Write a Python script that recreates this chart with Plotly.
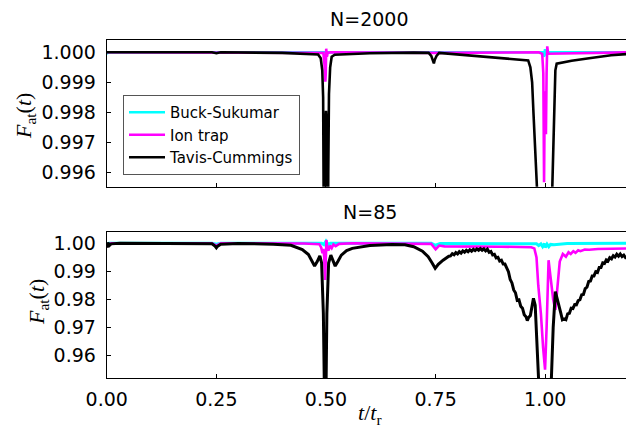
import plotly.graph_objects as go

# ---------------- data: N=2000 (top panel) ----------------
top_bs_t = [0.0, 0.003, 0.25, 0.5, 0.75, 0.994, 0.997, 0.9995, 1.002, 1.005, 1.2]
top_bs_f = [0.99995, 1.0, 1.0, 1.0, 1.0, 1.0, 0.99985, 1.0001, 0.9999, 1.0, 1.0]

top_it_t = [0.0, 0.25, 0.48, 0.494, 0.4965, 0.4985, 0.4995, 0.5005, 0.502, 0.504, 0.51,
            0.75, 0.985, 0.993, 0.9955, 0.9972, 0.9988, 1.0015, 1.003, 1.0045, 1.0065, 1.2]
top_it_f = [1.0, 1.0, 1.0, 0.99998, 0.9996, 0.99902, 0.9993, 1.00012, 0.99985, 0.99998, 1.0,
            0.99998, 1.0, 0.99995, 0.9993, 0.99567, 0.9987, 0.99727, 0.9993, 1.0002, 0.99995, 1.0]

top_tc_t = [0.0, 0.01, 0.24, 0.25, 0.26, 0.40, 0.45, 0.482, 0.488, 0.4915, 0.4935, 0.4948,
            0.4965, 0.498, 0.5, 0.502, 0.5035, 0.5052, 0.5068, 0.5095, 0.513, 0.52, 0.6, 0.7,
            0.734, 0.740, 0.744, 0.746, 0.748, 0.752, 0.758, 0.80, 0.85, 0.90, 0.95, 0.961,
            0.966, 0.970, 0.973, 0.977, 0.981, 0.99, 1.0, 1.01, 1.016, 1.019, 1.021, 1.023,
            1.026, 1.06, 1.10, 1.15, 1.2]
top_tc_f = [1.0, 1.0, 1.0, 0.99997, 1.0, 0.99998, 0.99996, 0.99993, 0.9998, 0.9994, 0.9985,
            0.996, 0.99, 0.9975, 0.99805, 0.9975, 0.99, 0.996, 0.9986, 0.9995, 0.99985, 0.99992,
            0.99997, 0.99999, 0.99998, 0.99988, 0.99975, 0.99963, 0.99975, 0.99988, 0.99998,
            0.99993, 0.99988, 0.99982, 0.99976, 0.99973, 0.9995, 0.999, 0.998, 0.9965, 0.9955,
            0.99, 0.985, 0.99, 0.9955, 0.997, 0.9985, 0.9994, 0.99962, 0.99972, 0.9998,
            0.9999, 0.99996]

# ---------------- data: N=85 (bottom panel) ----------------
bot_bs_t = [0.0, 0.005, 0.24, 0.25, 0.26, 0.49, 0.495, 0.5, 0.505, 0.51, 0.74, 0.75, 0.76,
            0.98, 0.985, 0.99, 0.994, 0.998, 1.0, 1.004, 1.008, 1.012, 1.02, 1.05, 1.2]
bot_bs_f = [0.9995, 1.0, 1.0, 0.9997, 1.0, 1.0, 0.9995, 1.0008, 0.9995, 1.0, 1.0, 0.9993,
            0.9999, 0.9998, 0.9992, 0.9998, 0.9988, 0.9999, 0.9985, 0.9997, 0.9988, 0.9996,
            0.9995, 0.9999, 1.0]

bot_it_t = [0.0, 0.004, 0.01, 0.24, 0.25, 0.26, 0.45, 0.485, 0.489, 0.492, 0.494, 0.496,
            0.498, 0.4995, 0.501, 0.503, 0.506, 0.509, 0.513, 0.517, 0.522, 0.53, 0.56, 0.74,
            0.75, 0.758, 0.77, 0.9, 0.968, 0.975, 0.98, 0.984, 0.99, 0.995, 0.9995, 1.003,
            1.0075, 1.012, 1.018, 1.023, 1.028, 1.033, 1.04, 1.047, 1.053, 1.058, 1.064, 1.069,
            1.075, 1.08, 1.09, 1.1, 1.12, 1.2]
bot_it_f = [0.9988, 0.9995, 1.0, 1.0, 0.9992, 1.0, 0.99995, 0.9997, 0.9985, 0.9965, 0.998,
            0.995, 0.987, 0.995, 1.0012, 0.998, 0.9975, 0.9992, 0.9983, 0.9996, 0.999, 0.9998,
            1.0, 0.9998, 0.9979, 0.9992, 0.9989, 0.9988, 0.9986, 0.9982, 0.995, 0.985, 0.975,
            0.963, 0.955, 0.97, 0.994, 0.988, 0.98, 0.9763, 0.985, 0.9935, 0.9962, 0.9952,
            0.9968, 0.9962, 0.9972, 0.9966, 0.9975, 0.9972, 0.9978, 0.9977, 0.998, 0.9982]

bot_tc_t = [0.0, 0.003, 0.006, 0.01, 0.03, 0.2, 0.24, 0.247, 0.25, 0.253, 0.26, 0.3, 0.38,
            0.42, 0.446, 0.46, 0.468, 0.474, 0.48, 0.486, 0.49, 0.494, 0.497, 0.4995, 0.502,
            0.506, 0.511, 0.516, 0.521, 0.527, 0.535, 0.547, 0.56, 0.6, 0.65, 0.68, 0.70,
            0.72, 0.733, 0.742, 0.749, 0.756, 0.767, 0.780, 0.784, 0.788, 0.792, 0.796, 0.800,
            0.804, 0.808, 0.812, 0.816, 0.820, 0.824, 0.828, 0.832, 0.836, 0.840, 0.844, 0.848,
            0.852, 0.856, 0.860, 0.864, 0.868, 0.872, 0.876, 0.880, 0.884, 0.888, 0.892, 0.896,
            0.900, 0.904, 0.908, 0.912, 0.916, 0.920, 0.924, 0.928, 0.932, 0.936, 0.940, 0.944,
            0.948, 0.952, 0.956, 0.959, 0.962, 0.966, 0.970, 0.973, 0.977, 0.982, 0.986, 0.991,
            1.009, 1.014, 1.018, 1.023, 1.027, 1.031, 1.035, 1.039, 1.043, 1.047, 1.051, 1.055,
            1.059, 1.063, 1.067, 1.071, 1.075, 1.079, 1.083, 1.087, 1.091, 1.095, 1.099, 1.103,
            1.107, 1.111, 1.115, 1.119, 1.123, 1.127, 1.131, 1.135, 1.139, 1.143, 1.147, 1.151,
            1.155, 1.159, 1.163, 1.167, 1.171, 1.175, 1.179, 1.183, 1.187, 1.191, 1.195, 1.2]
bot_tc_f = [0.9985, 1.0002, 0.9992, 0.9998, 1.0, 1.0, 0.9998, 0.999, 0.9984, 0.999, 0.9997,
            0.99995, 0.9997, 0.9993, 0.9978, 0.996, 0.9935, 0.9919, 0.9935, 0.9955, 0.993,
            0.975, 0.94, 0.94, 0.975, 0.993, 0.9958, 0.9935, 0.9919, 0.9935, 0.9958, 0.9974,
            0.9982, 0.9992, 0.9996, 0.9995, 0.9988, 0.9972, 0.9952, 0.993, 0.9911, 0.9925,
            0.994, 0.9954, 0.9955, 0.9963, 0.9959, 0.9967, 0.9962, 0.9970, 0.9965, 0.9973,
            0.9968, 0.9975, 0.9970, 0.9977, 0.9972, 0.9979, 0.9974, 0.9980, 0.9975, 0.9981,
            0.9975, 0.9980, 0.9973, 0.9979, 0.9968, 0.9971, 0.9959, 0.9961, 0.9948, 0.9950,
            0.9937, 0.9940, 0.9926, 0.9926, 0.9911, 0.9899, 0.9871, 0.9859, 0.9834, 0.9824,
            0.9797, 0.9799, 0.9776, 0.9769, 0.9746, 0.9739, 0.9725, 0.9736, 0.9743, 0.978,
            0.9804, 0.978, 0.965, 0.952, 0.93,
            0.93, 0.952, 0.970, 0.9828, 0.980, 0.9771, 0.9754, 0.9728, 0.9731, 0.9728, 0.9749,
            0.9751, 0.9769, 0.9768, 0.9782, 0.9781, 0.9796, 0.9799, 0.9817, 0.9818, 0.9839,
            0.9844, 0.9864, 0.9866, 0.9884, 0.9884, 0.9899, 0.9896, 0.9914, 0.9914, 0.9930,
            0.9928, 0.9941, 0.9937, 0.9949, 0.9945, 0.9956, 0.9951, 0.9961, 0.9954, 0.9962,
            0.9953, 0.9958, 0.9949, 0.9952, 0.9943, 0.9945, 0.9940]

series_names = ["Buck-Sukumar", "Ion trap", "Tavis-Cummings"]
series_colors = ["#00ffff", "#ff00ff", "#000000"]

x_ticks = [0.0, 0.25, 0.5, 0.75, 1.0]
x_ticklabels = ["0.00", "0.25", "0.50", "0.75", "1.00"]
top_yticks = [0.996, 0.997, 0.998, 0.999, 1.000]
top_yticklabels = ["0.996", "0.997", "0.998", "0.999", "1.000"]
bot_yticks = [0.96, 0.97, 0.98, 0.99, 1.00]
bot_yticklabels = ["0.96", "0.97", "0.98", "0.99", "1.00"]

# ---------------- figure ----------------
# the page body adds an 8px margin, so the figure is 8px smaller and
# every layout position below is given in window pixels minus 8
OFF = 8
W, H = 634 - OFF, 430 - OFF


def px_x(p):
    return (p - OFF) / W


def px_y(p):
    return 1 - (p - OFF) / H


fig = go.Figure()

top_data = [(top_bs_t, top_bs_f), (top_it_t, top_it_f), (top_tc_t, top_tc_f)]
bot_data = [(bot_bs_t, bot_bs_f), (bot_it_t, bot_it_f), (bot_tc_t, bot_tc_f)]
top_widths = [2.6, 2.6, 2.6]
bot_widths = [3, 2.6, 3]

for (t, f), name, col, w in zip(top_data, series_names, series_colors, top_widths):
    fig.add_trace(go.Scatter(x=t, y=f, mode="lines", name=name,
                             line=dict(color=col, width=w),
                             xaxis="x", yaxis="y", showlegend=True))
for (t, f), name, col, w in zip(bot_data, series_names, series_colors, bot_widths):
    fig.add_trace(go.Scatter(x=t, y=f, mode="lines", name=name,
                             line=dict(color=col, width=w),
                             xaxis="x2", yaxis="y2", showlegend=False))

px_l, px_r = 106.7, 633.0
top_t, top_b = 40.0, 186.7
bot_t, bot_b = 231.7, 378.3

font_main = "DejaVu Sans"
tick_font = dict(family=font_main, size=19, color="black")

axis_common = dict(showline=True, linecolor="black", linewidth=1, mirror=True,
                   ticks="inside", ticklen=4, tickcolor="black", showgrid=False,
                   zeroline=False, tickfont=tick_font, automargin=False)

fig.update_layout(
    width=W, height=H,
    margin=dict(l=0, r=0, t=0, b=0, autoexpand=False),
    paper_bgcolor="white", plot_bgcolor="white",
    xaxis=dict(domain=[px_x(px_l), px_x(px_r)], range=[0, 1.2], anchor="y",
               tickvals=x_ticks, ticktext=x_ticklabels, showticklabels=False,
               **axis_common),
    yaxis=dict(domain=[px_y(top_b), px_y(top_t)], range=[0.99552, 1.00041],
               anchor="x", tickvals=top_yticks, ticktext=top_yticklabels,
               ticklabelstandoff=6, **axis_common),
    xaxis2=dict(domain=[px_x(px_l), px_x(px_r)], range=[0, 1.2], anchor="y2",
                tickvals=x_ticks, ticktext=x_ticklabels, ticklabelstandoff=4,
                **axis_common),
    yaxis2=dict(domain=[px_y(bot_b), px_y(bot_t)], range=[0.95196, 1.00413],
                anchor="x2", tickvals=bot_yticks, ticktext=bot_yticklabels,
                ticklabelstandoff=6, **axis_common),
    legend=dict(x=px_x(123), y=px_y(95), xanchor="left", yanchor="top",
                bordercolor="#555555", borderwidth=1, bgcolor="white",
                font=dict(family=font_main, size=15, color="black"),
                tracegroupgap=0, itemwidth=36, entrywidth=149,
                entrywidthmode="pixels"),
    showlegend=True,
)

cx = px_x((px_l + px_r) / 2)
fig.add_annotation(text="N=2000", x=cx, y=px_y(18.7), xref="paper", yref="paper",
                   showarrow=False, xanchor="center", yanchor="middle",
                   font=dict(family=font_main, size=19, color="black"))
fig.add_annotation(text="N=85", x=cx, y=px_y(211.5), xref="paper", yref="paper",
                   showarrow=False, xanchor="center", yanchor="middle",
                   font=dict(family=font_main, size=19, color="black"))

label_font = dict(family="Liberation Serif", size=22, color="black")
fig.add_annotation(text="<i>F</i><sub>at</sub>(<i>t</i>)", x=px_x(25), y=px_y(116),
                   xref="paper", yref="paper", showarrow=False, textangle=-90,
                   xanchor="center", yanchor="middle", font=label_font)
fig.add_annotation(text="<i>F</i><sub>at</sub>(<i>t</i>)", x=px_x(38), y=px_y(302),
                   xref="paper", yref="paper", showarrow=False, textangle=-90,
                   xanchor="center", yanchor="middle", font=label_font)
fig.add_annotation(text="<i>t</i>/<i>t</i><sub>r</sub>", x=cx, y=px_y(414),
                   xref="paper", yref="paper", showarrow=False,
                   xanchor="center", yanchor="middle", font=label_font)

fig.write_html("out.html")
